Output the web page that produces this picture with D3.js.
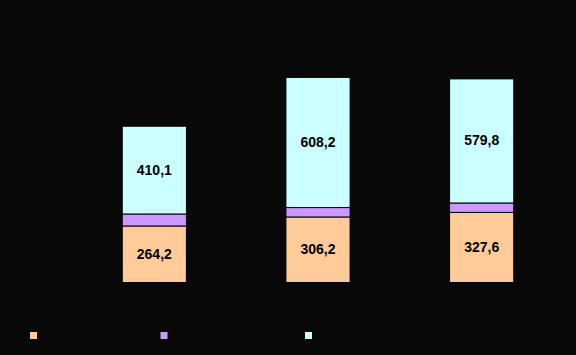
<!DOCTYPE html>
<html><head><meta charset="utf-8">
<script src="https://cdn.jsdelivr.net/npm/d3@7"></script>
<style>html,body{margin:0;padding:0;background:#080808;}</style>
</head><body>
<svg id="chart" width="576" height="355"></svg>
<script>
const categories = ["A", "B", "C"];
const seriesNames = ["s1", "s2", "s3"];
const series1 = [264.2, 306.2, 327.6];
const series2 = [56, 44, 44];
const series3 = [410.1, 608.2, 579.8];
const colors = ["#FFCC99", "#CC99FF", "#CCFFFF"];

const svg = d3.select("#chart");
svg.append("rect").attr("width", 576).attr("height", 355).attr("fill", "#080808");

const x = d3.scaleBand().domain(categories).range([72, 563]).paddingInner(0.608).paddingOuter(0.304);
const y = d3.scaleLinear().domain([0, 1000]).range([282, 68]);

const rows = categories.map((c, i) => ({cat: c, s1: series1[i], s2: series2[i], s3: series3[i]}));
const stack = d3.stack().keys(["s1", "s2", "s3"])(rows);

const g = svg.append("g");
stack.forEach((layer, li) => {
  g.selectAll(null).data(layer).enter().append("rect")
    .attr("x", d => x(d.data.cat) + 0.5)
    .attr("y", d => y(d[1]) + 0.5)
    .attr("width", x.bandwidth())
    .attr("height", d => y(d[0]) - y(d[1]))
    .attr("fill", colors[li])
    .attr("stroke", "#000")
    .attr("stroke-width", 1);
});

[0, 2].forEach(li => {
  g.selectAll(null).data(stack[li]).enter().append("text")
    .attr("x", d => x(d.data.cat) + x.bandwidth() / 2 + 0.5)
    .attr("y", d => (y(d[0]) + y(d[1])) / 2)
    .attr("dy", "0.36em")
    .attr("text-anchor", "middle")
    .attr("font-family", "Liberation Sans, Arial, sans-serif")
    .attr("font-weight", "bold")
    .attr("font-size", 14)
    .attr("fill", "#000")
    .text(d => d3.format(".1f")(d[1] - d[0]).replace(".", ","));
});

const legendX = [30, 160.5, 305];
seriesNames.forEach((s, i) => {
  svg.append("rect")
    .attr("x", legendX[i]).attr("y", 332)
    .attr("width", 7).attr("height", 7)
    .attr("fill", colors[i]);
});
</script>
</body></html>
